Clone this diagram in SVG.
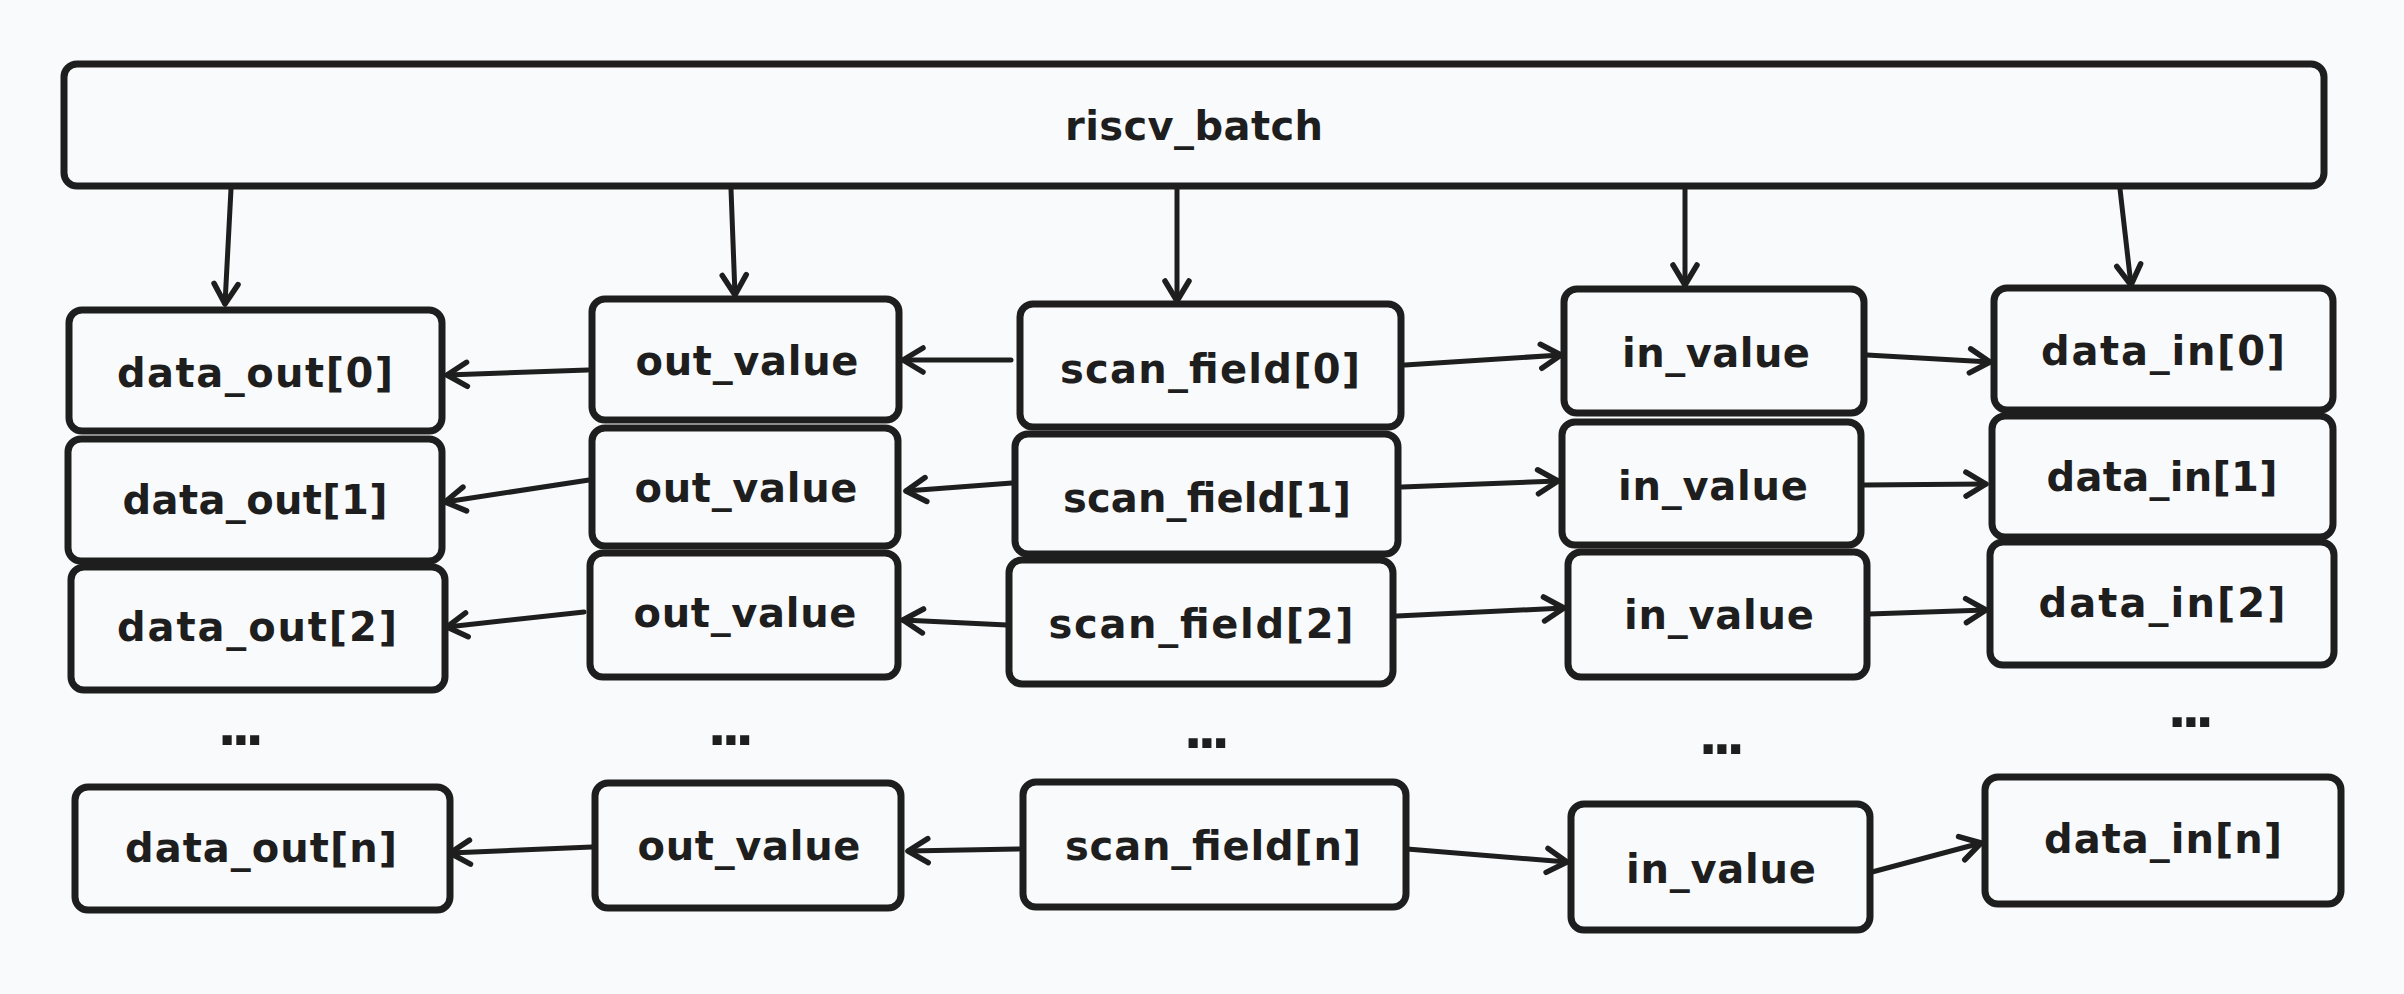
<svg xmlns="http://www.w3.org/2000/svg" width="2404" height="994" viewBox="0 0 2404 994">
<style>
.bx{fill:#f9fafb;stroke:#1e1e1e;stroke-width:7;stroke-linejoin:round}
.t{font-family:"DejaVu Sans","Liberation Sans",sans-serif;font-size:40px;font-weight:bold;fill:#1e1e1e;text-anchor:middle}
.d{font-family:"DejaVu Sans","Liberation Sans",sans-serif;font-size:52px;font-weight:bold;fill:#1e1e1e;text-anchor:middle;letter-spacing:-6px}
.c line{stroke:#1e1e1e;stroke-width:5;stroke-linecap:round;marker-end:url(#ah)}
</style>
<defs>
<marker id="ah" markerUnits="userSpaceOnUse" viewBox="-26 -16 30 32" markerWidth="30" markerHeight="32" refX="0" refY="0" orient="auto">
<path d="M-20,-12 L0,0 L-20,12" fill="none" stroke="#1e1e1e" stroke-width="5.5" stroke-linecap="round" stroke-linejoin="round"/>
</marker>
</defs>
<rect width="2404" height="994" fill="#f9fafb"/>
<g class="c" id="connectors">
<line x1="231" y1="189" x2="225" y2="304"/>
<line x1="731" y1="189" x2="735" y2="295"/>
<line x1="1177" y1="189" x2="1177" y2="301"/>
<line x1="1685" y1="189" x2="1685" y2="285"/>
<line x1="2120" y1="189" x2="2131" y2="285"/>
<line x1="588" y1="370" x2="447" y2="375"/>
<line x1="1011" y1="360" x2="903" y2="360"/>
<line x1="1405" y1="365" x2="1561" y2="355"/>
<line x1="1867" y1="355" x2="1990" y2="362"/>
<line x1="589" y1="480" x2="445" y2="502"/>
<line x1="1012" y1="483" x2="906" y2="491"/>
<line x1="1402" y1="487" x2="1558" y2="481"/>
<line x1="1864" y1="485" x2="1986" y2="484"/>
<line x1="584" y1="612" x2="447" y2="627"/>
<line x1="1007" y1="625" x2="903" y2="620"/>
<line x1="1397" y1="616" x2="1564" y2="608"/>
<line x1="1869" y1="614" x2="1986" y2="610"/>
<line x1="592" y1="847" x2="450" y2="853"/>
<line x1="1019" y1="849" x2="908" y2="851"/>
<line x1="1407" y1="849" x2="1567" y2="862"/>
<line x1="1872" y1="872" x2="1981" y2="843"/>
</g>
<g id="riscv_batch"><rect class="bx" x="64" y="64" width="2260" height="122" rx="13"/><text class="t" x="1194" y="140" textLength="258" lengthAdjust="spacing">riscv_batch</text></g>
<g id="data_out_0"><rect class="bx" x="69" y="310" width="373" height="121" rx="13"/><text class="t" x="255" y="387" textLength="276" lengthAdjust="spacing">data_out[0]</text></g>
<g id="data_out_1"><rect class="bx" x="68" y="439" width="374" height="122" rx="13"/><text class="t" x="255" y="514" textLength="265" lengthAdjust="spacing">data_out[1]</text></g>
<g id="data_out_2"><rect class="bx" x="71" y="567" width="374" height="123" rx="13"/><text class="t" x="257" y="641" textLength="280" lengthAdjust="spacing">data_out[2]</text></g>
<g id="data_out_n"><rect class="bx" x="75" y="787" width="375" height="123" rx="13"/><text class="t" x="261" y="862" textLength="272" lengthAdjust="spacing">data_out[n]</text></g>
<g id="out_value_0"><rect class="bx" x="592" y="299" width="307" height="121" rx="13"/><text class="t" x="747" y="375" textLength="223" lengthAdjust="spacing">out_value</text></g>
<g id="out_value_1"><rect class="bx" x="592" y="428" width="306" height="118" rx="13"/><text class="t" x="746" y="502" textLength="223" lengthAdjust="spacing">out_value</text></g>
<g id="out_value_2"><rect class="bx" x="590" y="553" width="308" height="124" rx="13"/><text class="t" x="745" y="627" textLength="223" lengthAdjust="spacing">out_value</text></g>
<g id="out_value_n"><rect class="bx" x="595" y="783" width="306" height="125" rx="13"/><text class="t" x="749" y="860" textLength="223" lengthAdjust="spacing">out_value</text></g>
<g id="scan_field_0"><rect class="bx" x="1020" y="304" width="381" height="123" rx="13"/><text class="t" x="1210" y="383" textLength="300" lengthAdjust="spacing">scan_field[0]</text></g>
<g id="scan_field_1"><rect class="bx" x="1015" y="434" width="383" height="120" rx="13"/><text class="t" x="1207" y="512" textLength="288" lengthAdjust="spacing">scan_field[1]</text></g>
<g id="scan_field_2"><rect class="bx" x="1009" y="560" width="384" height="124" rx="13"/><text class="t" x="1201" y="638" textLength="305" lengthAdjust="spacing">scan_field[2]</text></g>
<g id="scan_field_n"><rect class="bx" x="1023" y="782" width="383" height="125" rx="13"/><text class="t" x="1213" y="860" textLength="296" lengthAdjust="spacing">scan_field[n]</text></g>
<g id="in_value_0"><rect class="bx" x="1564" y="289" width="300" height="124" rx="13"/><text class="t" x="1716" y="367" textLength="188" lengthAdjust="spacing">in_value</text></g>
<g id="in_value_1"><rect class="bx" x="1562" y="422" width="299" height="123" rx="13"/><text class="t" x="1713" y="500" textLength="190" lengthAdjust="spacing">in_value</text></g>
<g id="in_value_2"><rect class="bx" x="1568" y="552" width="299" height="125" rx="13"/><text class="t" x="1719" y="629" textLength="190" lengthAdjust="spacing">in_value</text></g>
<g id="in_value_n"><rect class="bx" x="1571" y="804" width="299" height="126" rx="13"/><text class="t" x="1721" y="883" textLength="190" lengthAdjust="spacing">in_value</text></g>
<g id="data_in_0"><rect class="bx" x="1994" y="288" width="339" height="122" rx="13"/><text class="t" x="2163" y="365" textLength="244" lengthAdjust="spacing">data_in[0]</text></g>
<g id="data_in_1"><rect class="bx" x="1992" y="416" width="341" height="121" rx="13"/><text class="t" x="2162" y="491" textLength="231" lengthAdjust="spacing">data_in[1]</text></g>
<g id="data_in_2"><rect class="bx" x="1990" y="542" width="344" height="123" rx="13"/><text class="t" x="2162" y="617" textLength="247" lengthAdjust="spacing">data_in[2]</text></g>
<g id="data_in_n"><rect class="bx" x="1985" y="777" width="356" height="127" rx="13"/><text class="t" x="2163" y="853" textLength="238" lengthAdjust="spacing">data_in[n]</text></g>
<g id="ellipses">
<text class="d" x="238" y="745">...</text>
<text class="d" x="728" y="745">...</text>
<text class="d" x="1204" y="748">...</text>
<text class="d" x="1719" y="754">...</text>
<text class="d" x="2188" y="727">...</text>
</g>
</svg>
